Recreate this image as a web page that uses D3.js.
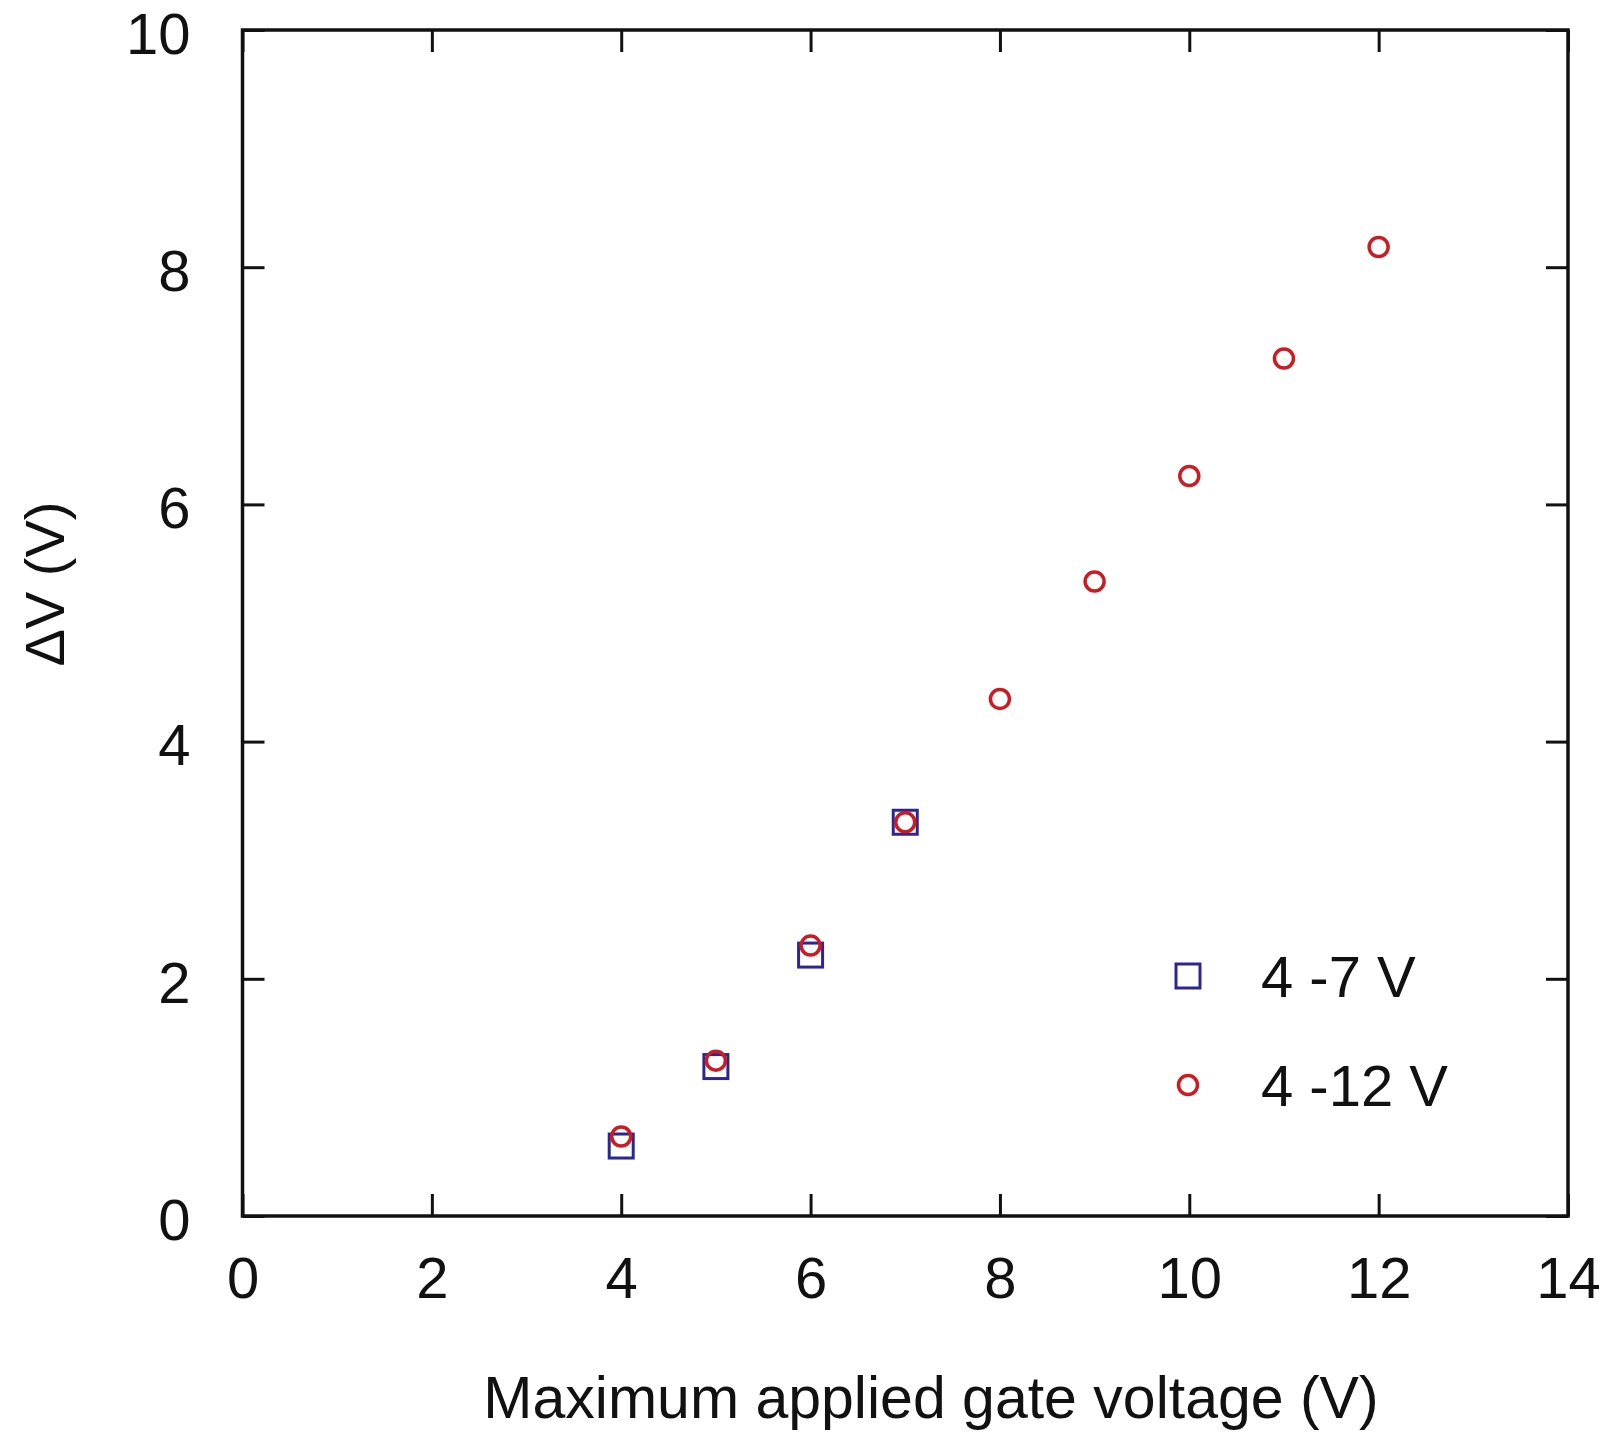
<!DOCTYPE html>
<html>
<head>
<meta charset="utf-8">
<script src="https://cdn.jsdelivr.net/npm/d3@7"></script>
<style>
  body { margin: 0; background: #fff; }
  text { font-family: "Liberation Sans", Arial, sans-serif; fill: #111; }
</style>
</head>
<body>
<svg id="chart" width="1608" height="1432"></svg>
<script>
// data
var gateV_4to12 = [ 4, 5, 6, 7, 8, 9, 10, 11, 12 ];
var deltaV_4to12 = [ 0.67, 1.31, 2.28, 3.32, 4.36, 5.35, 6.24, 7.23, 8.17 ];
var gateV_4to7 = [ 4, 5, 6, 7 ];
var deltaV_4to7 = [ 0.59, 1.26, 2.20, 3.32 ];
var xTicks = [ 0, 2, 4, 6, 8, 10, 12, 14 ];
var yTicks = [ 0, 2, 4, 6, 8, 10 ];
var legendLabels = [ '4 -7 V', '4 -12 V' ];

var svg = d3.select( '#chart' ),
  margin = { top: 30, right: 40, bottom: 216, left: 242.5 },
  width = +svg.attr( 'width' ),
  height = +svg.attr( 'height' );

var blue = '#2c2790',
  red = '#cc1c22';

var x = d3.scaleLinear()
  .domain( [ 0, 14 ] )
  .range( [ margin.left, width - margin.right ] );

var y = d3.scaleLinear()
  .domain( [ 0, 10 ] )
  .range( [ height - margin.bottom, margin.top ] );

var fontSize = 58, tick = 22;

// bottom axis (labelled) and top mirror
svg.append( 'g' )
  .attr( 'transform', 'translate(0,' + y( 0 ) + ')' )
  .call( d3.axisBottom( x ).tickValues( xTicks ).tickSizeInner( -tick ).tickSizeOuter( 0 ).tickPadding( 41 ) )
  .call( g => g.select( '.domain' ).remove() );

svg.append( 'g' )
  .attr( 'transform', 'translate(0,' + y( 10 ) + ')' )
  .call( d3.axisTop( x ).tickValues( xTicks ).tickSizeInner( -tick ).tickSizeOuter( 0 ).tickFormat( '' ) )
  .call( g => g.select( '.domain' ).remove() );

svg.append( 'g' )
  .attr( 'class', 'y-axis' )
  .attr( 'transform', 'translate(' + x( 0 ) + ',0)' )
  .call( d3.axisLeft( y ).tickValues( yTicks ).tickSizeInner( -tick ).tickSizeOuter( 0 ).tickPadding( 52 ) )
  .call( g => g.select( '.domain' ).remove() )
  .call( g => g.selectAll( 'text' ).attr( 'dy', '0.4em' ) );

svg.append( 'g' )
  .attr( 'transform', 'translate(' + x( 14 ) + ',0)' )
  .call( d3.axisRight( y ).tickValues( yTicks ).tickSizeInner( -tick ).tickSizeOuter( 0 ).tickFormat( '' ) )
  .call( g => g.select( '.domain' ).remove() );

svg.selectAll( '.tick line' )
  .attr( 'stroke', '#111' )
  .attr( 'stroke-width', 3 );

svg.selectAll( '.tick text' )
  .style( 'font-size', fontSize + 'px' )
  .attr( 'fill', '#111' );

// frame
svg.append( 'rect' )
  .attr( 'x', x( 0 ) )
  .attr( 'y', y( 10 ) )
  .attr( 'width', x( 14 ) - x( 0 ) )
  .attr( 'height', y( 0 ) - y( 10 ) )
  .attr( 'fill', 'none' )
  .attr( 'stroke', '#111' )
  .attr( 'stroke-width', 3.5 );

// squares: 4 -7 V
var sq = 24, r = 9.5;
svg.append( 'g' ).selectAll( 'rect' )
  .data( gateV_4to7.map( ( v, i ) => ( { x: v, y: deltaV_4to7[ i ] } ) ) )
  .enter().append( 'rect' )
    .attr( 'x', d => x( d.x ) - sq / 2 )
    .attr( 'y', d => y( d.y ) - sq / 2 )
    .attr( 'width', sq )
    .attr( 'height', sq )
    .attr( 'fill', 'none' )
    .attr( 'stroke', blue )
    .attr( 'stroke-width', 3 );

// circles: 4 -12 V
svg.append( 'g' ).selectAll( 'circle' )
  .data( gateV_4to12.map( ( v, i ) => ( { x: v, y: deltaV_4to12[ i ] } ) ) )
  .enter().append( 'circle' )
    .attr( 'cx', d => x( d.x ) )
    .attr( 'cy', d => y( d.y ) )
    .attr( 'r', r )
    .attr( 'fill', 'none' )
    .attr( 'stroke', red )
    .attr( 'stroke-width', 3.5 );

// axis titles
svg.append( 'text' )
  .attr( 'x', 931 )
  .attr( 'y', 1418 )
  .attr( 'text-anchor', 'middle' )
  .style( 'font-size', '59px' )
  .text( 'Maximum applied gate voltage (V)' );

svg.append( 'text' )
  .attr( 'transform', 'translate(64,584) rotate(-90)' )
  .attr( 'text-anchor', 'middle' )
  .style( 'font-size', '56px' )
  .text( 'ΔV (V)' );

/* Legend */
var legend = svg.append( 'g' )
  .attr( 'transform', 'translate(1188,976)' );

var rows = legend.selectAll( 'g' )
  .data( legendLabels )
  .enter().append( 'g' )
    .attr( 'transform', ( d, i ) => 'translate(0,' + i * 109 + ')' );

rows.filter( ( d, i ) => i === 0 ).append( 'rect' )
  .attr( 'x', -sq / 2 )
  .attr( 'y', -sq / 2 )
  .attr( 'width', sq )
  .attr( 'height', sq )
  .attr( 'fill', 'none' )
  .attr( 'stroke', blue )
  .attr( 'stroke-width', 3 );

rows.filter( ( d, i ) => i === 1 ).append( 'circle' )
  .attr( 'r', r )
  .attr( 'fill', 'none' )
  .attr( 'stroke', red )
  .attr( 'stroke-width', 3.5 );

rows.append( 'text' )
  .attr( 'x', 73 )
  .attr( 'dy', '0.36em' )
  .style( 'font-size', fontSize + 'px' )
  .text( d => d );
</script>
</body>
</html>
